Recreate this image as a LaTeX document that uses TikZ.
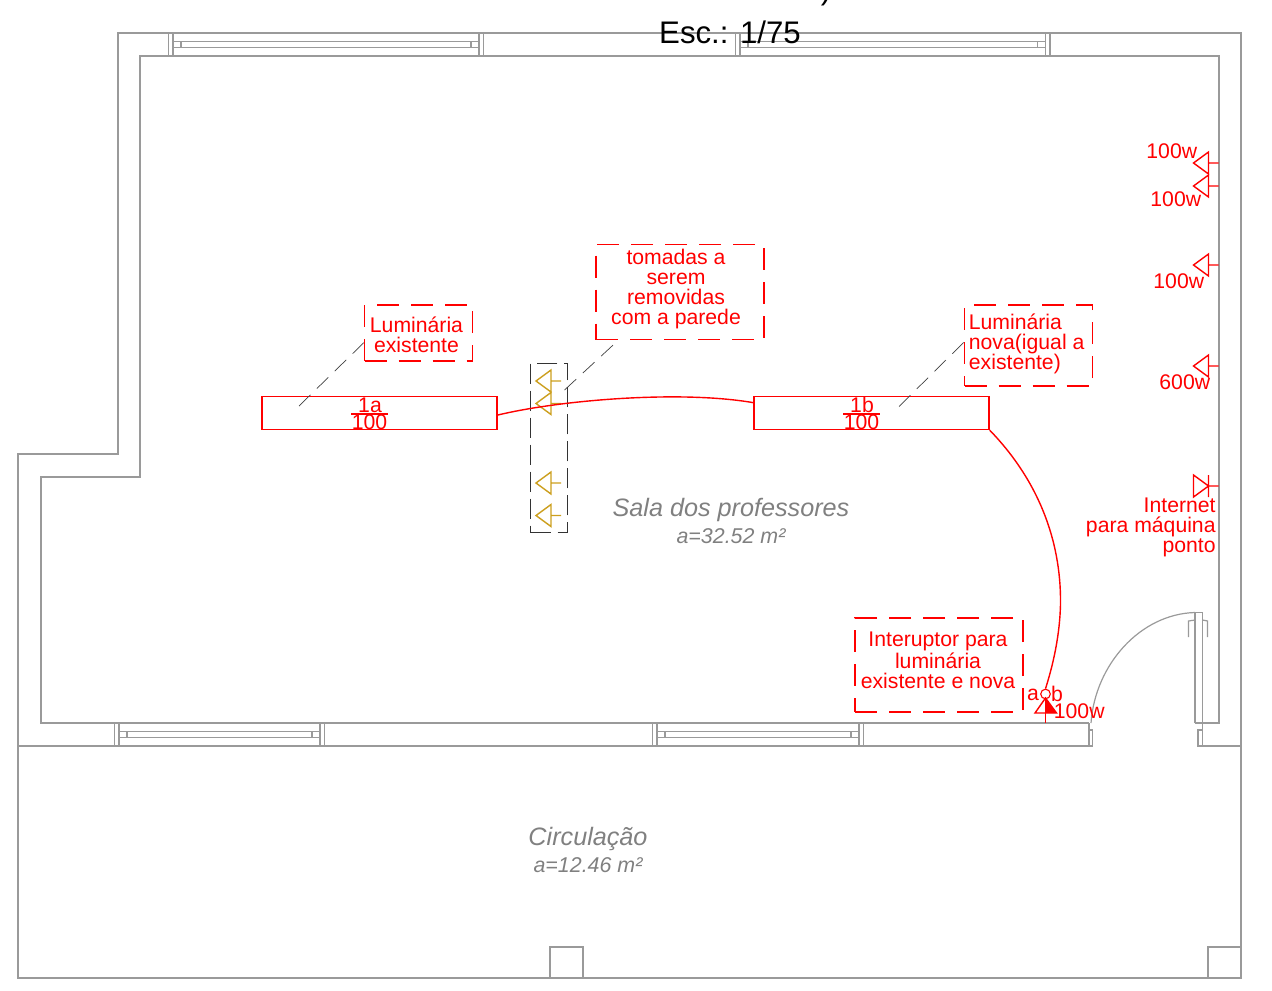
\documentclass[tikz,border=0pt]{standalone}
\usepackage{fontspec}
\setmainfont{Liberation Sans}
\usepackage{tikz}
\usetikzlibrary{arrows}

\definecolor{cinza}{HTML}{9A9A9A}
\definecolor{ouro}{HTML}{CC9F1E}

\newcommand{\janela}[3]{
  \draw[parede] (#1,#3) -- ++(0,23) (#1+4.5,#3) -- ++(0,23)
                (#2,#3) -- ++(0,23) (#2-4.5,#3) -- ++(0,23);
  \draw[parede] (#1+4.5,#3+8.5) -- (#2-4.5,#3+8.5)
                (#1+4.5,#3+14.5) -- (#2-4.5,#3+14.5);
  \draw[parede] (#1+12.5,#3+8.5) -- ++(0,6) (#2-12.5,#3+8.5) -- ++(0,6);
}

\tikzset{
  tomada/.pic={\draw (0,0) -- (10,0) (0,-11) -- (0,11) -- (-15,0) -- cycle;},
  internet/.pic={\draw (0,0) -- (10,0) (0,-11) -- (0,11) (0,0) -- (-15,-11) -- (-15,11) -- cycle;}
}

\begin{document}
\begin{tikzpicture}
  [x=0.5pt,y=-0.5pt,every node/.style={inner sep=0pt}]

  \tikzstyle{parede} = [draw=cinza,line width=0.6pt]
  \tikzstyle{fio} = [draw=red,line width=0.7pt]
  \tikzstyle{guia} = [draw=black!75,line width=0.35pt,dash pattern=on 8pt off 4.5pt]
  \tikzstyle{caixa} = [draw=red,line width=0.65pt,dash pattern=on 11pt off 6pt]
  \tikzstyle{luminaria} = [draw=red,line width=0.7pt,minimum width=117.5pt,minimum height=16.5pt]
  \tikzstyle{rotulo} = [text=red,align=center,font=\fontsize{10.6}{10}\selectfont]
  \tikzstyle{ambiente} = [text=gray,font=\fontsize{12.6}{14}\selectfont\itshape]
  \tikzstyle{area} = [text=gray,font=\fontsize{10.7}{12}\selectfont\itshape]

  \useasboundingbox (0,0) rectangle (1272,990);

  % paredes
  \draw[parede] (18,454) -- (118,454) -- (118,33) -- (1241,33) -- (1241,978) -- (18,978) -- cycle;
  \draw[parede] (1089,723) -- (41,723) -- (41,477) -- (140,477) -- (140,56) -- (1219,56) -- (1219,723) -- (1195,723);
  \draw[parede] (18,746) -- (1092.7,746) -- (1092.7,730) -- (1089,730);
  \draw[parede] (1089,723) -- (1089,746);
  \draw[parede] (1241,746) -- (1198,746) -- (1198,730) -- (1202.5,730);
  \draw[parede] (1202.5,723) -- (1202.5,746);
  \draw[parede] (550,978) -- (550,947) -- (583,947) -- (583,978);
  \draw[parede] (1208,978) -- (1208,947) -- (1241,947);

  % janelas
  \janela{168.5}{483.5}{33}
  \janela{735.5}{1050}{33}
  \janela{114.5}{324.5}{723}
  \janela{652.5}{863.5}{723}

  % porta
  \draw[parede] (1195,723) -- (1195,612.5) -- (1202.5,612.5) -- (1202.5,723);
  \draw[draw=cinza,line width=0.6pt] (1091,723) .. controls (1095,665) and (1140,614) .. (1195,612.5);
  \draw[parede] (1188.5,637) -- (1188.5,621) -- (1195,620);
  \draw[parede] (1207.5,637) -- (1207.5,621) -- (1202.5,620);

  % titulo
  \node (titulo) at (730,32) {\fontsize{15.6}{18}\selectfont Esc.: 1/75};
  \node (corte) at (826,-9) {\fontsize{15.6}{18}\selectfont )};

  % ambientes
  \node[ambiente] (sala) at (731,510) {Sala dos professores};
  \node[area] (asala) at (731,536) {a=32.52 m²};
  \node[ambiente] (circ) at (588,839) {Circulação};
  \node[area] (acirc) at (588,865) {a=12.46 m²};

  % luminarias
  \node[luminaria] (1a) at (379.5,413) {};
  \node[rotulo] (n1a) at (370,405) {1a};
  \node[rotulo] (p1a) at (369.5,422) {100};
  \draw[fio] (p1a.north west) -- (p1a.north east);
  \node[luminaria] (1b) at (871.5,413) {};
  \node[rotulo] (n1b) at (862,405) {1b};
  \node[rotulo] (p1b) at (861.5,422) {100};
  \draw[fio] (p1b.north west) -- (p1b.north east);

  % caixas
  \node[caixa,minimum width=54pt,minimum height=28pt] (cexist) at (418.5,333) {};
  \node[rotulo] (texist) at (416.5,335) {Luminária\\existente};
  \node[caixa,minimum width=84pt,minimum height=47.5pt] (ctom) at (680,292) {};
  \node[rotulo] (ttom) at (676,289.5) {tomadas a\\serem\\removidas\\com a parede};
  \node[caixa,minimum width=64pt,minimum height=40.5pt] (cnova) at (1028.7,345.5) {};
  \node[rotulo,align=left,anchor=west] (tnova) at (968.5,344) {Luminária\\nova(igual a\\existente)};
  \node[caixa,minimum width=84pt,minimum height=47pt] (cint) at (939,665) {};
  \node[rotulo] (tint) at (938,660.5) {Interuptor para\\luminária\\existente e nova};

  % guias
  \coordinate (g1a) at (299,406);
  \coordinate (gtom) at (564.5,390);
  \coordinate (g1b) at (899,406.5);
  \draw[guia] (g1a) -- (cexist.190);
  \draw[guia] (gtom) -- (ctom.218);
  \draw[guia] (g1b) -- (cnova.177);

  % tomadas removidas
  \node[draw=black!80,line width=0.4pt,dash pattern=on 10pt off 3.5pt,minimum width=18.3pt,minimum height=84.7pt] (remov) at (549,448) {};
  \pic[color=ouro,line width=0.7pt] at (551,381) {tomada};
  \pic[color=ouro,line width=0.7pt] at (551,403.5) {tomada};
  \pic[color=ouro,line width=0.7pt] at (551,483) {tomada};
  \pic[color=ouro,line width=0.7pt] at (551,515.5) {tomada};

  % tomadas
  \pic[color=red,line width=0.7pt] at (1208.5,163) {tomada};
  \pic[color=red,line width=0.7pt] at (1208.5,186) {tomada};
  \pic[color=red,line width=0.7pt] at (1208.5,265) {tomada};
  \pic[color=red,line width=0.7pt] at (1208.5,366) {tomada};
  \pic[color=red,line width=0.7pt] at (1208.5,486) {internet};
  \node[rotulo,anchor=east] (t100a) at (1197.5,151) {100w};
  \node[rotulo,anchor=east] (t100b) at (1201.5,199) {100w};
  \node[rotulo,anchor=east] (t100c) at (1204.5,281) {100w};
  \node[rotulo,anchor=east] (t600) at (1210.5,382) {600w};
  \node[rotulo,align=right,anchor=east] (tnet) at (1216,527) {Internet\\para máquina\\ponto};

  % interruptor
  \node[draw=red,line width=0.55pt,circle,minimum size=4.8pt] (int) at (1045.5,694) {};
  \node[rotulo] (ta) at (1033,695) {a};
  \node[rotulo] (tb) at (1057,694) {b};
  \node[rotulo,anchor=west] (t100d) at (1053.5,711.5) {100w};
  \draw[fio] (1035,713) -- (1045.5,698) -- (1056.5,713) -- cycle;
  \fill[red] (1045.5,698) -- (1056.5,713) -- (1045.5,713) -- cycle;
  \draw[fio] (int.south) -- (1045.5,723);

  % fiacao
  \draw[fio] (1a.-1) .. controls (560,400) and (680,390) .. (1b.175.5);
  \draw[fio] (1b.south east) .. controls (1038,480) and (1061,540) .. (1060.5,603)
        .. controls (1060,635) and (1053,665) .. (int.north);
\end{tikzpicture}
\end{document}
